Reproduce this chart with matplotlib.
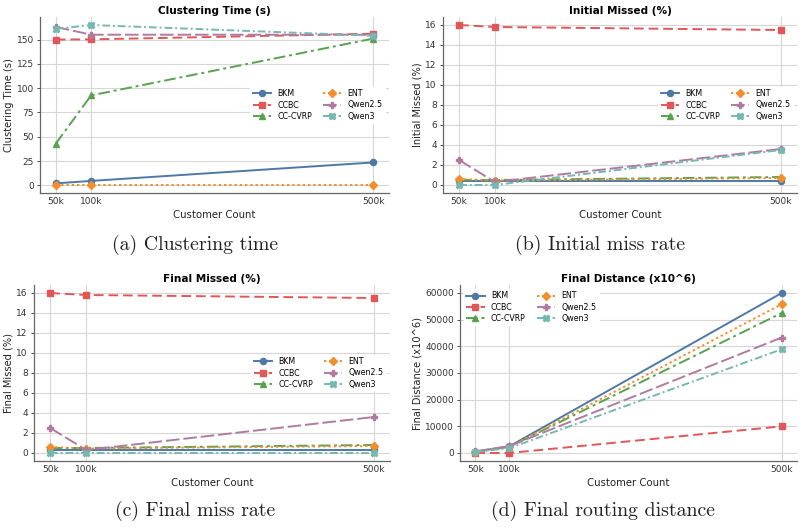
import matplotlib
matplotlib.use("Agg")
import matplotlib.pyplot as plt
from matplotlib.ticker import MultipleLocator

customers = [50000, 100000, 500000]
xtick_labels = ["50k", "100k", "500k"]
methods = ["BKM", "CCBC", "CC-CVRP", "ENT", "Qwen2.5", "Qwen3"]

clustering_time = {
    "BKM": [2.0, 4.5, 23.5],
    "CCBC": [150.0, 150.2, 156.0],
    "CC-CVRP": [43.0, 92.5, 151.0],
    "ENT": [0.3, 0.3, 0.3],
    "Qwen2.5": [163.0, 155.0, 155.0],
    "Qwen3": [161.0, 165.0, 154.0],
}
initial_missed = {
    "BKM": [0.4, 0.4, 0.4],
    "CCBC": [16.0, 15.8, 15.5],
    "CC-CVRP": [0.5, 0.5, 0.8],
    "ENT": [0.6, 0.45, 0.7],
    "Qwen2.5": [2.5, 0.3, 3.6],
    "Qwen3": [0.0, 0.0, 3.5],
}
final_missed = {
    "BKM": [0.35, 0.35, 0.35],
    "CCBC": [16.0, 15.8, 15.5],
    "CC-CVRP": [0.5, 0.5, 0.8],
    "ENT": [0.6, 0.45, 0.7],
    "Qwen2.5": [2.5, 0.3, 3.6],
    "Qwen3": [0.0, 0.0, 0.0],
}
final_distance = {
    "BKM": [500, 2500, 60000],
    "CCBC": [0, 0, 10000],
    "CC-CVRP": [400, 2300, 52500],
    "ENT": [500, 2300, 55800],
    "Qwen2.5": [600, 2600, 43300],
    "Qwen3": [400, 1800, 38900],
}

titles = ["Clustering Time (s)", "Initial Missed (%)", "Final Missed (%)", "Final Distance (x10^6)"]
ylabels = ["Clustering Time (s)", "Initial Missed (%)", "Final Missed (%)", "Final Distance (x10^6)"]
captions = ["(a) Clustering time", "(b) Initial miss rate", "(c) Final miss rate", "(d) Final routing distance"]
ytick_steps = [25, 2, 2, 10000]

styles = {
    "BKM": dict(color="#4e79a7", ls="-", marker="o"),
    "CCBC": dict(color="#e15759", ls=(0, (5, 2.5)), marker="s"),
    "CC-CVRP": dict(color="#59a14f", ls=(0, (6, 2, 1.5, 2)), marker="^"),
    "ENT": dict(color="#f28e2b", ls=(0, (1.2, 1.5)), marker="D"),
    "Qwen2.5": dict(color="#b07aa1", ls=(0, (7, 2)), marker="P"),
    "Qwen3": dict(color="#76b7b2", ls=(0, (4, 1.5, 1, 1.5)), marker="X"),
}

W, H = 804, 528
fig = plt.figure(figsize=(W / 100, H / 100), dpi=100)
fig.patch.set_facecolor("white")

def box(l, t, r, b):
    return [l / W, 1 - b / H, (r - l) / W, (b - t) / H]

rects = [box(40, 17, 389, 193), box(443, 17, 797, 193), box(34, 285, 390, 461), box(460, 285, 797, 461)]
datasets = [clustering_time, initial_missed, final_missed, final_distance]
legend_locs = ["center right", "center right", "center right", "upper left"]
cap_pos = [(195, 245), (600, 245), (195, 511), (603, 511)]

for rect, data, title, ylabel, loc, cap, cp, step in zip(rects, datasets, titles, ylabels,
                                                         legend_locs, captions, cap_pos, ytick_steps):
    ax = fig.add_axes(rect)
    for m in methods:
        st = styles[m]
        ax.plot(customers, data[m], label=m, color=st["color"], linestyle=st["ls"],
                marker=st["marker"], markersize=4.4, linewidth=1.4)
    ax.set_xticks(customers)
    ax.set_xticklabels(xtick_labels)
    ax.yaxis.set_major_locator(MultipleLocator(step))
    ax.grid(True, color="#d6d6d6", linewidth=0.8)
    ax.set_axisbelow(True)
    for s in ["top", "right"]:
        ax.spines[s].set_visible(False)
    for s in ["left", "bottom"]:
        ax.spines[s].set_color("#666666")
        ax.spines[s].set_linewidth(0.9)
    ax.tick_params(axis="both", labelsize=6.5, colors="#333333", length=2.5, width=0.6, pad=2)
    ax.tick_params(axis="x", length=0, pad=3)
    ax.set_title(title, fontsize=7.6, fontweight="bold", pad=2.5)
    ax.set_xlabel("Customer Count", fontsize=7.3, color="#222222", labelpad=3)
    ax.set_ylabel(ylabel, fontsize=7.1, color="#222222", labelpad=2)
    ax.legend(loc=loc, ncol=2, fontsize=5.7, frameon=True, framealpha=1.0,
              edgecolor="white", columnspacing=1.4, handlelength=2.3,
              borderaxespad=0.5, labelspacing=0.3, borderpad=0.3)
    fig.text(cp[0] / W, 1 - cp[1] / H, cap, ha="center", va="center",
             fontsize=14.3, family="cmr10", color="#222222")

fig.savefig("out.png", dpi=100, facecolor="white")
